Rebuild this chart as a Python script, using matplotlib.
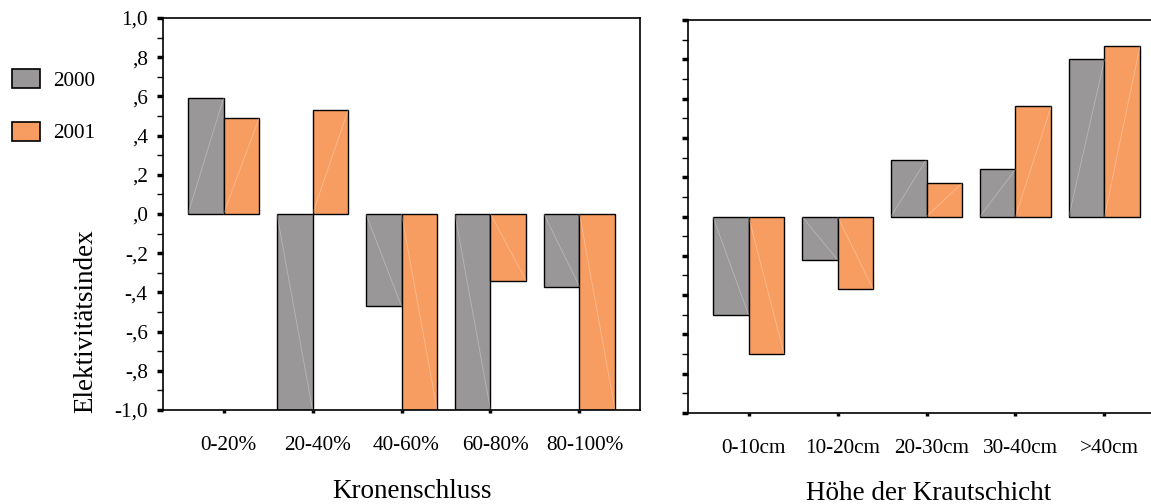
import matplotlib
matplotlib.use("Agg")
import matplotlib.pyplot as plt
import matplotlib.transforms as mtransforms
from matplotlib.patches import Patch
import numpy as np

# ---- data ----
crown_cats = ["0-20%", "20-40%", "40-60%", "60-80%", "80-100%"]
crown_2000 = [0.59, -1.0, -0.47, -1.0, -0.37]
crown_2001 = [0.49, 0.53, -1.0, -0.34, -1.0]

herb_cats = ["0-10cm", "10-20cm", "20-30cm", "30-40cm", ">40cm"]
herb_2000 = [-0.50, -0.22, 0.29, 0.24, 0.80]
herb_2001 = [-0.70, -0.37, 0.17, 0.56, 0.87]

years = ["2000", "2001"]
ytick_vals = [-1.0, -0.8, -0.6, -0.4, -0.2, 0.0, 0.2, 0.4, 0.6, 0.8, 1.0]
ytick_labels = ["-1,0", "-,8", "-,6", "-,4", "-,2", ",0", ",2", ",4", ",6", ",8", "1,0"]

GRAY = "#999797"
ORANGE = "#F89D61"
TICK_FS = 15.3
LABEL_FS = 19.5

plt.rcParams["font.family"] = ["Liberation Serif", "DejaVu Serif"]

W, H = 1151, 504
fig = plt.figure(figsize=(W / 100, H / 100), dpi=100)


def px_axes(x0, x1, top, bottom):
    return fig.add_axes([x0 / W, 1 - bottom / H, (x1 - x0) / W, (bottom - top) / H])


def draw_panel(ax, cats, a, b, show_labels):
    x = np.arange(1, len(cats) + 1)
    w = 0.4
    bars = []
    bars += list(ax.bar(x - w / 2, a, w, color=GRAY, edgecolor="black", linewidth=1.0))
    bars += list(ax.bar(x + w / 2, b, w, color=ORANGE, edgecolor="black", linewidth=1.0))
    # faint diagonal streak that the original renderer left in every bar
    for p in bars:
        bx, bw, bh = p.get_x(), p.get_width(), p.get_height()
        ax.plot([bx, bx + bw], [0, bh], color="white", alpha=0.3, lw=0.6)
    ax.set_xlim(0.32, 5.68)
    ax.set_ylim(-1.0, 1.0)
    ax.set_xticks(x)
    ax.set_xticklabels(cats, fontsize=TICK_FS)
    ax.set_yticks(ytick_vals)
    ax.set_yticks(np.arange(-0.9, 1.0, 0.2), minor=True)
    if show_labels:
        ax.set_yticklabels(ytick_labels, fontsize=TICK_FS)
    else:
        ax.set_yticklabels([])
    ax.tick_params(axis="x", length=2, width=2.5, pad=17)
    ax.tick_params(axis="y", which="major", length=4, width=2.5, pad=7)
    ax.tick_params(axis="y", which="minor", length=4, width=1)
    for s in ax.spines.values():
        s.set_linewidth(1.2)
    shift = mtransforms.ScaledTranslation(5 / 100, 0, fig.dpi_scale_trans)
    for lab in ax.get_xticklabels():
        lab.set_transform(lab.get_transform() + shift)


ax1 = px_axes(163, 640, 18, 410)
draw_panel(ax1, crown_cats, crown_2000, crown_2001, True)

ax2 = px_axes(688, 1165, 20, 413)
draw_panel(ax2, herb_cats, herb_2000, herb_2001, False)

fig.text(412 / W, 1 - 492 / H, "Kronenschluss", ha="center", va="center", fontsize=LABEL_FS)
fig.text(929 / W, 1 - 493 / H, "Höhe der Krautschicht", ha="center", va="center",
         fontsize=LABEL_FS)
fig.text(86 / W, 1 - 413 / H, "Elektivitätsindex", ha="center", va="bottom",
         rotation=90, fontsize=19.5)

handles = [Patch(facecolor=GRAY, edgecolor="black", linewidth=1.2),
           Patch(facecolor=ORANGE, edgecolor="black", linewidth=1.2)]
fig.legend(handles, years, loc="upper left", bbox_to_anchor=(12 / W, 1 - 69 / H),
           frameon=False, fontsize=TICK_FS, handlelength=1.3, handleheight=1.0,
           labelspacing=1.45, handletextpad=0.65, borderpad=0, borderaxespad=0)

fig.savefig("out.png", dpi=100)
